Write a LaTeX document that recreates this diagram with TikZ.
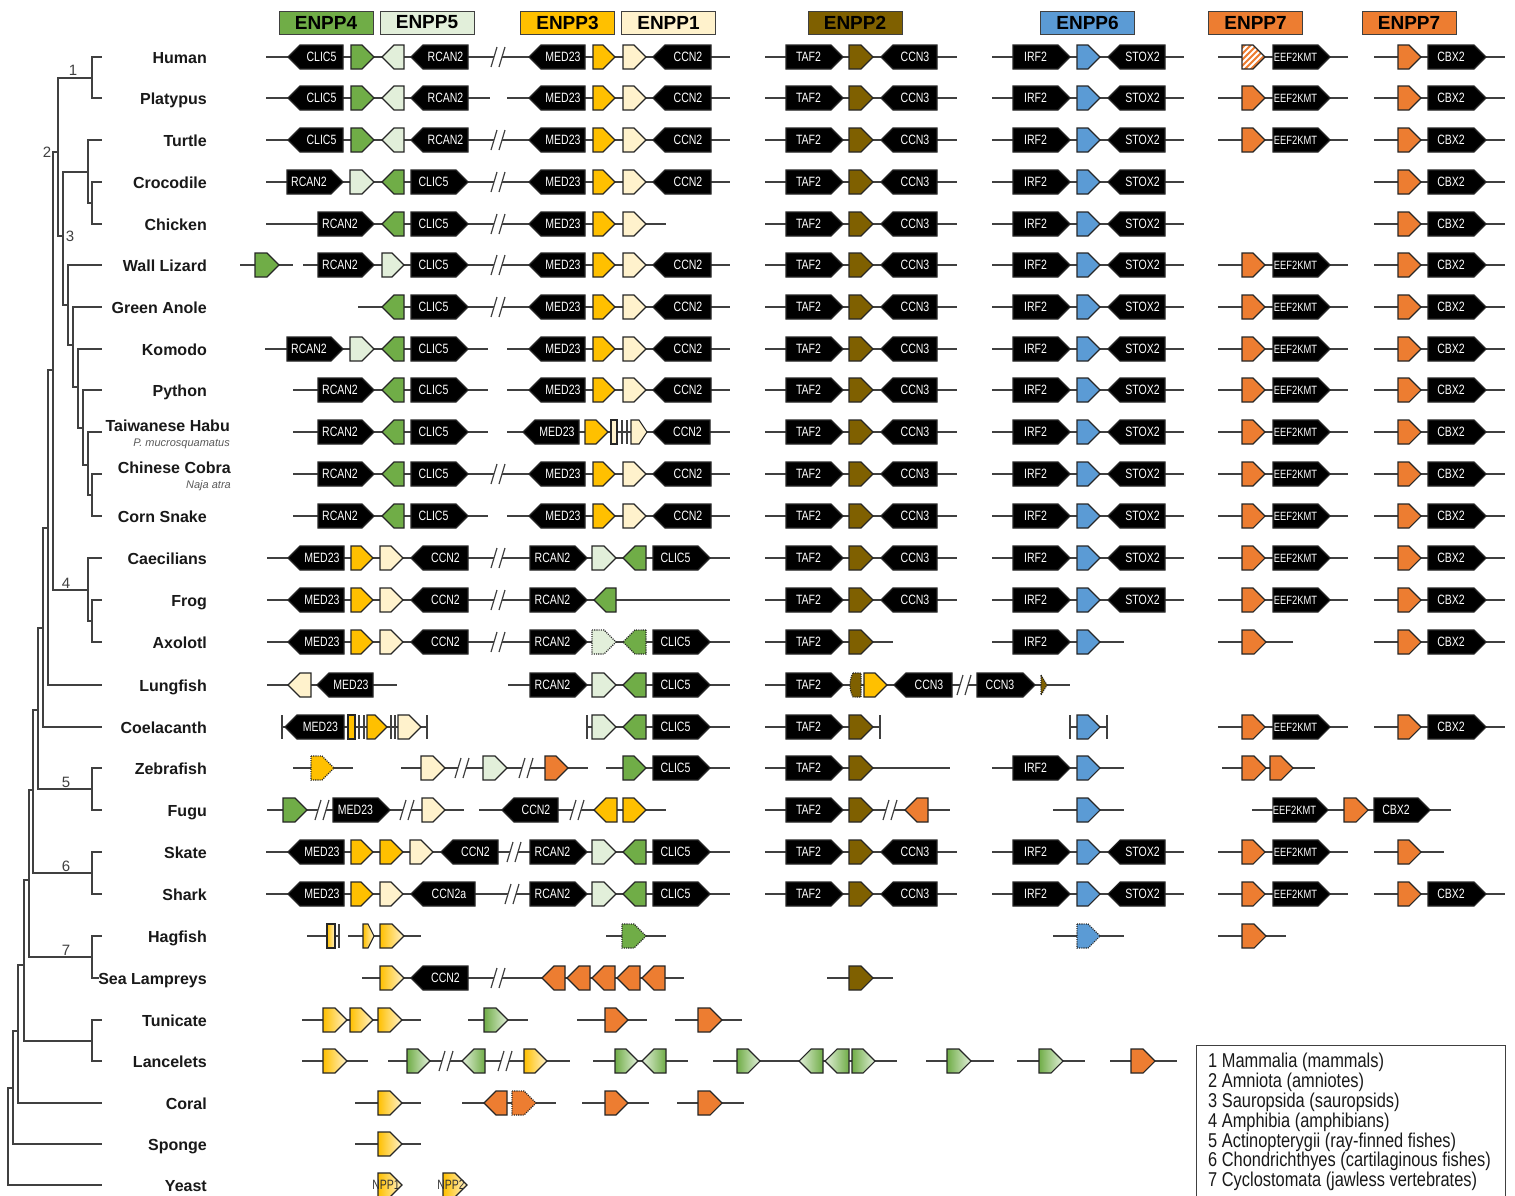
\documentclass[tikz,border=0pt]{standalone}
\usepackage{fontspec}
\setmainfont{Liberation Sans}
\newfontfamily\narrowfont[FakeStretch=0.78]{Liberation Sans}
\newfontfamily\legfont[FakeStretch=0.82]{Liberation Sans}
\definecolor{G4}{HTML}{70AD47}
\definecolor{G5}{HTML}{E2EFDA}
\definecolor{Y3}{HTML}{FFC000}
\definecolor{Y1}{HTML}{FFF2CC}
\definecolor{B2}{HTML}{7F6000}
\definecolor{B6}{HTML}{5B9BD5}
\definecolor{O7}{HTML}{ED7D31}
\tikzset{
  chrom/.style={line width=1.4pt, draw=black!75},
  gout/.style={line width=1.1pt, draw=black!85, line join=miter},
  glab/.style={font=\narrowfont\fontsize{13.5}{13.5}\selectfont, text=white, inner sep=0pt},
  eef/.style={font=\narrowfont\fontsize{12}{12}\selectfont},
  ygR/.style={left color=Y3, right color=Y1},
  ygL/.style={left color=Y1, right color=Y3},
  ggR/.style={left color=G4, right color=G5},
  ggL/.style={left color=G5, right color=G4},
  dotout/.style={dash pattern=on 1.1pt off 1.1pt},
  tree/.style={line width=1.5pt, draw=black!75, line cap=rect},
  sp/.style={font=\bfseries\fontsize{16}{16}\selectfont, anchor=base east, text=black!90, inner sep=0pt},
  subsp/.style={font=\itshape\fontsize{11}{11}\selectfont, anchor=base east, text=black!65, inner sep=0pt},
  num/.style={font=\fontsize{15}{15}\selectfont, text=black!75, inner sep=0pt},
  hdr/.style={draw=black!75, line width=1pt, minimum width=94pt, minimum height=23pt, inner sep=0pt, font=\bfseries\fontsize{19}{19}\selectfont},
  leg/.style={font=\legfont\fontsize{20}{20}\selectfont, anchor=base west, text=black!90, inner sep=0pt},
}
\newcommand\gch[2]{\draw[chrom] (#1,\ry) -- (#2,\ry);}
\newcommand\gbrk[1]{\fill[white] (#1-3.6,\ry-3) rectangle (#1+3.6,\ry+3);
  \draw[chrom,line width=1.2pt] (#1-7,\ry+10) -- (#1-1,\ry-10) (#1+1,\ry+10) -- (#1+7,\ry-10);}
\newcommand\gvbar[1]{\draw[chrom] (#1,\ry-12) -- (#1,\ry+12);}
\newcommand\gGR[4][]{\path[gout,#4,#1] (#2,\ry-12) -- (#3-12,\ry-12) -- (#3,\ry) -- (#3-12,\ry+12) -- (#2,\ry+12) -- cycle;}
\newcommand\gGL[4][]{\path[gout,#4,#1] (#3,\ry-12) -- (#2+12,\ry-12) -- (#2,\ry) -- (#2+12,\ry+12) -- (#3,\ry+12) -- cycle;}
\newcommand\gGRp[4]{\path[gout,#4] (#1,\ry-12) -- (#2-#3,\ry-12) -- (#2,\ry) -- (#2-#3,\ry+12) -- (#1,\ry+12) -- cycle;}
\newcommand\gRect[3]{\path[gout,#3] (#1,\ry-12) rectangle (#2,\ry+12);}
\newcommand\gBR[4][]{\path[gout,fill=black] (#2,\ry-12) -- (#3-12,\ry-12) -- (#3,\ry) -- (#3-12,\ry+12) -- (#2,\ry+12) -- cycle;
  \node[glab,#1] at ({(#2+#3)/2-6},\ry) {#4};}
\newcommand\gBL[4][]{\path[gout,fill=black] (#3,\ry-12) -- (#2+12,\ry-12) -- (#2,\ry) -- (#2+12,\ry+12) -- (#3,\ry+12) -- cycle;
  \node[glab,#1] at ({(#2+#3)/2+6},\ry) {#4};}
% standard blocks
\newcommand\EtwoFull{\gch{765}{957}\gBR{786}{843}{TAF2}\gGR{849}{873}{fill=B2}\gBL{881}{937}{CCN3}}
\newcommand\EsixFull{\gch{992}{1184}\gBR{1013}{1070}{IRF2}\gGR{1077}{1100}{fill=B6}\gBL{1108}{1165}{STOX2}}
\newcommand\EsevA{\gch{1218}{1348}\gGR{1242}{1265}{fill=O7}\gBR[eef]{1273}{1330}{EEF2KMT}}
\newcommand\EsevB{\gch{1374}{1505}\gGR{1398}{1421}{fill=O7}\gBR{1428}{1486}{CBX2}}
\newcommand\BlockB{\gBL{529}{585}{MED23}\gGR{593}{615}{fill=Y3}\gGR{623}{646}{fill=Y1}\gBL{653}{711}{CCN2}}
\newcommand\BlockAmam{\gBL{288}{343}{CLIC5}\gGR{351}{374}{fill=G4}\gGL{382}{404}{fill=G5}\gBL{411}{468}{RCAN2}}
\newcommand\BlockAsnake{\gBR{318}{374}{RCAN2}\gGL{382}{404}{fill=G4}\gBR{411}{468}{CLIC5}}
\newcommand\BlockAamph{\gBL{288}{344}{MED23}\gGR{351}{373}{fill=Y3}\gGR{380}{403}{fill=Y1}\gBL{411}{468}{CCN2}}
\newcommand\BlockBfish{\gBR{530}{587}{RCAN2}\gGR{592}{616}{fill=G5}\gGL{623}{646}{fill=G4}\gBR{653}{710}{CLIC5}}
\begin{document}
\begin{tikzpicture}[x=1pt,y=-1pt]
\useasboundingbox (0,0) rectangle (1515,1195);
\fill[white] (0,0) rectangle (1515,1195);

% ---------------- tree ----------------
\draw[tree]
 (58,78)--(92,78) (92,57)--(92,98) (92,57)--(101,57) (92,98)--(101,98)
 (53,152)--(58,152) (58,78)--(58,236)
 (58,236)--(63,236) (63,172)--(63,305)
 (63,172)--(88,172) (88,140)--(88,203) (88,140)--(101,140) (88,203)--(92,203) (92,182)--(92,224) (92,182)--(101,182) (92,224)--(101,224)
 (63,305)--(68,305) (68,265)--(68,345) (68,265)--(101,265)
 (68,345)--(73,345) (73,307)--(73,387) (73,307)--(101,307)
 (73,387)--(78,387) (78,349)--(78,428) (78,349)--(101,349)
 (78,428)--(83,428) (83,390)--(83,465) (83,390)--(101,390)
 (83,465)--(88,465) (88,432)--(88,495) (88,432)--(101,432)
 (88,495)--(92,495) (92,474)--(92,516) (92,474)--(101,474) (92,516)--(101,516)
 (53,152)--(53,590) (53,590)--(88,590) (88,558)--(88,621) (88,558)--(101,558) (88,621)--(92,621) (92,600)--(92,642) (92,600)--(101,600) (92,642)--(101,642)
 (48,370)--(53,370) (48,370)--(48,685) (48,685)--(101,685)
 (43,528)--(48,528) (43,528)--(43,727) (43,727)--(101,727)
 (38,628)--(43,628) (38,628)--(38,789) (38,789)--(92,789) (92,768)--(92,810) (92,768)--(101,768) (92,810)--(101,810)
 (33,710)--(38,710) (33,710)--(33,873) (33,873)--(92,873) (92,852)--(92,894) (92,852)--(101,852) (92,894)--(101,894)
 (29,790)--(33,790) (29,790)--(29,957) (29,957)--(92,957) (92,936)--(92,978) (92,936)--(101,936) (92,978)--(98,978)
 (24,880)--(29,880) (24,880)--(24,1041) (24,1041)--(92,1041) (92,1020)--(92,1061) (92,1020)--(101,1020) (92,1061)--(101,1061)
 (18,965)--(24,965) (18,965)--(18,1103) (18,1103)--(101,1103)
 (13,1031)--(18,1031) (13,1031)--(13,1144) (13,1144)--(101,1144)
 (8,1088)--(13,1088) (8,1088)--(8,1185) (8,1185)--(101,1185);
\node[num] (n1) at (73,70) {1};
\node[num] (n2) at (47,152) {2};
\node[num] (n3) at (70,236) {3};
\node[num] (n4) at (66,583) {4};
\node[num] (n5) at (66,782) {5};
\node[num] (n6) at (66,866) {6};
\node[num] (n7) at (66,950) {7};

% ---------------- species ----------------
\node[sp] (s0) at (207,63) {Human};
\node[sp] (s1) at (207,104) {Platypus};
\node[sp] (s2) at (207,146) {Turtle};
\node[sp] (s3) at (207,188) {Crocodile};
\node[sp] (s4) at (207,230) {Chicken};
\node[sp] (s5) at (207,271) {Wall Lizard};
\node[sp] (s6) at (207,313) {Green Anole};
\node[sp] (s7) at (207,355) {Komodo};
\node[sp] (s8) at (207,396) {Python};
\node[sp] (s9) at (230,431) {Taiwanese Habu};
\node[subsp] (s9b) at (230,446) {P. mucrosquamatus};
\node[sp] (s10) at (231,473) {Chinese Cobra};
\node[subsp] (s10b) at (231,488) {Naja atra};
\node[sp] (s11) at (207,522) {Corn Snake};
\node[sp] (s12) at (207,564) {Caecilians};
\node[sp] (s13) at (207,606) {Frog};
\node[sp] (s14) at (207,648) {Axolotl};
\node[sp] (s15) at (207,691) {Lungfish};
\node[sp] (s16) at (207,733) {Coelacanth};
\node[sp] (s17) at (207,774) {Zebrafish};
\node[sp] (s18) at (207,816) {Fugu};
\node[sp] (s19) at (207,858) {Skate};
\node[sp] (s20) at (207,900) {Shark};
\node[sp] (s21) at (207,942) {Hagfish};
\node[sp] (s22) at (207,984) {Sea Lampreys};
\node[sp] (s23) at (207,1026) {Tunicate};
\node[sp] (s24) at (207,1067) {Lancelets};
\node[sp] (s25) at (207,1109) {Coral};
\node[sp] (s26) at (207,1150) {Sponge};
\node[sp] (s27) at (207,1191) {Yeast};

% ---------------- headers ----------------
\node[hdr,fill=G4] (h4) at (326,22.5) {ENPP4};
\node[hdr,fill=G5] (h5) at (427,22.5) {ENPP5};
\node[hdr,fill=Y3] (h3) at (567.5,22.5) {ENPP3};
\node[hdr,fill=Y1] (h1) at (668.5,22.5) {ENPP1};
\node[hdr,fill=B2] (h2) at (855,22.5) {ENPP2};
\node[hdr,fill=B6] (h6) at (1087.5,22.5) {ENPP6};
\node[hdr,fill=O7] (h7a) at (1255.5,22.5) {ENPP7};
\node[hdr,fill=O7] (h7b) at (1409,22.5) {ENPP7};

% ---------------- rows ----------------
% Human
\def\ry{57}
\gch{266}{730}\gbrk{498}\BlockAmam\BlockB\EtwoFull\EsixFull
\gch{1218}{1348}
\begin{scope}
\clip (1242,45) -- (1253,45) -- (1265,57) -- (1253,69) -- (1242,69) -- cycle;
\fill[O7] (1235,40) rectangle (1275,75);
\foreach \k in {-36,-30,...,30} \draw[white,line width=1.8pt] (1242+\k,69) -- (1266+\k,45);
\end{scope}
\path[gout] (1242,45) -- (1253,45) -- (1265,57) -- (1253,69) -- (1242,69) -- cycle;
\gBR[eef]{1273}{1330}{EEF2KMT}
\EsevB
% Platypus
\def\ry{98}
\gch{266}{490}\gch{507}{730}\BlockAmam\BlockB\EtwoFull\EsixFull\EsevA\EsevB
% Turtle
\def\ry{140}
\gch{266}{730}\gbrk{498}\BlockAmam\BlockB\EtwoFull\EsixFull\EsevA\EsevB
% Crocodile
\def\ry{182}
\gch{266}{730}\gbrk{498}
\gBR{287}{343}{RCAN2}\gGR{350}{374}{fill=G5}\gGL{382}{404}{fill=G4}\gBR{411}{468}{CLIC5}
\BlockB\EtwoFull\EsixFull\EsevB
% Chicken
\def\ry{224}
\gch{266}{666}\gbrk{498}\BlockAsnake
\gBL{529}{585}{MED23}\gGR{593}{615}{fill=Y3}\gGR{623}{646}{fill=Y1}
\EtwoFull\EsixFull\EsevB
% Wall Lizard
\def\ry{265}
\gch{240}{293}\gGR{255}{279}{fill=G4}
\gch{303}{730}\gbrk{498}
\gBR{318}{374}{RCAN2}\gGR{382}{404}{fill=G5}\gBR{411}{468}{CLIC5}
\BlockB\EtwoFull\EsixFull\EsevA\EsevB
% Green Anole
\def\ry{307}
\gch{358}{730}\gbrk{498}\gGL{382}{404}{fill=G4}\gBR{411}{468}{CLIC5}
\BlockB\EtwoFull\EsixFull\EsevA\EsevB
% Komodo
\def\ry{349}
\gch{265}{488}\gch{507}{730}
\gBR{287}{343}{RCAN2}\gGR{350}{374}{fill=G5}\gGL{382}{404}{fill=G4}\gBR{411}{468}{CLIC5}
\BlockB\EtwoFull\EsixFull\EsevA\EsevB
% Python
\def\ry{390}
\gch{293}{488}\gch{507}{730}\BlockAsnake\BlockB\EtwoFull\EsixFull\EsevA\EsevB
% Taiwanese Habu
\def\ry{432}
\gch{293}{488}\gch{507}{730}\BlockAsnake
\gBL{523}{579}{MED23}\gGR{585}{608}{fill=Y3}\gRect{611}{617}{fill=Y1}
\gvbar{622}\gvbar{627}\gGRp{631}{647}{8}{fill=Y1}\gBL{653}{710}{CCN2}
\EtwoFull\EsixFull\EsevA\EsevB
% Chinese Cobra
\def\ry{474}
\gch{293}{730}\gbrk{498}\BlockAsnake\BlockB\EtwoFull\EsixFull\EsevA\EsevB
% Corn Snake
\def\ry{516}
\gch{293}{488}\gch{507}{730}\BlockAsnake\BlockB\EtwoFull\EsixFull\EsevA\EsevB
% Caecilians
\def\ry{558}
\gch{267}{730}\gbrk{498}\BlockAamph\BlockBfish\EtwoFull\EsixFull\EsevA\EsevB
% Frog
\def\ry{600}
\gch{267}{730}\gbrk{498}\BlockAamph\gBR{530}{587}{RCAN2}\gGL{594}{616}{fill=G4}
\EtwoFull\EsixFull\EsevA\EsevB
% Axolotl
\def\ry{642}
\gch{267}{730}\gbrk{498}\BlockAamph
\gBR{530}{587}{RCAN2}\gGR[dotout]{592}{616}{fill=G5}\gGL[dotout]{623}{646}{fill=G4}\gBR{653}{710}{CLIC5}
\gch{765}{893}\gBR{786}{843}{TAF2}\gGR{849}{873}{fill=B2}
\gch{992}{1124}\gBR{1013}{1070}{IRF2}\gGR{1077}{1100}{fill=B6}
\gch{1218}{1293}\gGR{1242}{1266}{fill=O7}
\EsevB
% Lungfish
\def\ry{685}
\gch{267}{397}\gGL{288}{311}{fill=Y1}\gBL{317}{373}{MED23}
\gch{508}{730}\BlockBfish
\gch{765}{1070}\gBR{786}{843}{TAF2}
\path[gout,dotout,fill=B2] (853,673) -- (861,673) -- (861,697) -- (853,697) .. controls (849,690) and (849,680) .. (853,673);
\gGR{864}{887}{fill=Y3}\gBL{894}{952}{CCN3}\gbrk{964}\gBR{977}{1035}{CCN3}
\path[gout,dotout,fill=B2] (1041,675) -- (1047,685) -- (1041,695) -- cycle;
% Coelacanth
\def\ry{727}
\gch{282}{427}\gvbar{282}\gBL{285}{344}{MED23}\gRect{348}{355}{fill=Y3}
\gvbar{359}\gvbar{364}\gGR{367}{387}{fill=Y3}\gvbar{391}\gvbar{395}\gGR{398}{421}{fill=Y1}\gvbar{427}
\gch{587}{730}\gvbar{587}\gGR{592}{616}{fill=G5}\gGL{623}{646}{fill=G4}\gBR{653}{710}{CLIC5}
\gch{765}{880}\gBR{786}{843}{TAF2}\gGR{849}{873}{fill=B2}\gvbar{880}
\gch{1070}{1107}\gvbar{1070}\gGR{1077}{1100}{fill=B6}\gvbar{1107}
\EsevA\EsevB
% Zebrafish
\def\ry{768}
\gch{293}{353}\gGR[dotout]{311}{334}{fill=Y3}
\gch{401}{588}\gGR{421}{445}{fill=Y1}\gbrk{462}\gGR{483}{507}{fill=G5}\gbrk{526}\gGR{545}{568}{fill=O7}
\gch{606}{730}\gGR{623}{646}{fill=G4}\gBR{653}{710}{CLIC5}
\gch{765}{950}\gBR{786}{843}{TAF2}\gGR{849}{873}{fill=B2}
\gch{992}{1124}\gBR{1013}{1070}{IRF2}\gGR{1077}{1100}{fill=B6}
\gch{1222}{1315}\gGR{1242}{1266}{fill=O7}\gGR{1270}{1293}{fill=O7}
% Fugu
\def\ry{810}
\gch{267}{464}\gGR{283}{307}{fill=G4}\gbrk{322}\gBR{333}{390}{MED23}\gbrk{407}\gGR{422}{445}{fill=Y1}
\gch{479}{666}\gBL{502}{558}{CCN2}\gbrk{577}\gGL{594}{617}{fill=Y3}\gGR{623}{646}{fill=Y3}
\gch{765}{950}\gBR{786}{843}{TAF2}\gGR{849}{873}{fill=B2}\gbrk{890}\gGL{905}{928}{fill=O7}
\gch{1053}{1124}\gGR{1077}{1100}{fill=B6}
\gch{1252}{1451}\gBR[eef]{1273}{1328}{EEF2KMT}\gGR{1344}{1368}{fill=O7}\gBR{1374}{1430}{CBX2}
% Skate
\def\ry{852}
\gch{266}{730}\gbrk{514}
\gBL{288}{344}{MED23}\gGR{351}{373}{fill=Y3}\gGR{380}{403}{fill=Y3}\gGR{410}{433}{fill=Y1}\gBL{441}{498}{CCN2}
\BlockBfish\EtwoFull\EsixFull\EsevA
\gch{1374}{1444}\gGR{1398}{1421}{fill=O7}
% Shark
\def\ry{894}
\gch{266}{730}\gbrk{512}
\gBL{288}{344}{MED23}\gGR{351}{373}{fill=Y3}\gGR{380}{403}{fill=Y1}\gBL{411}{475}{CCN2a}
\BlockBfish\EtwoFull\EsixFull\EsevA\EsevB
% Hagfish
\def\ry{936}
\gch{307}{339}\gRect{327}{335}{ygR}\gvbar{339}
\gch{348}{421}\gGRp{363}{374}{6}{ygR}\gGR{380}{404}{ygR}
\gch{606}{666}\gGR[dotout]{622}{646}{fill=G4}
\gch{1053}{1124}\gGR[dotout]{1077}{1100}{fill=B6}
\gch{1218}{1286}\gGR{1242}{1266}{fill=O7}
% Sea Lampreys
\def\ry{978}
\gch{362}{684}\gbrk{498}\gGR{380}{404}{ygR}\gBL{411}{468}{CCN2}
\gGL{542}{565}{fill=O7}\gGL{567}{590}{fill=O7}\gGL{592}{615}{fill=O7}\gGL{617}{640}{fill=O7}\gGL{642}{665}{fill=O7}
\gch{827}{893}\gGR{849}{873}{fill=B2}
% Tunicate
\def\ry{1020}
\gch{302}{421}\gGR{323}{347}{ygR}\gGR{350}{373}{ygR}\gGR{378}{402}{ygR}
\gch{468}{528}\gGR{484}{508}{ggR}
\gch{577}{647}\gGR{605}{628}{fill=O7}
\gch{675}{742}\gGR{698}{722}{fill=O7}
% Lancelets
\def\ry{1061}
\gch{302}{368}\gGR{323}{347}{ygR}
\gch{388}{570}\gGR{407}{430}{ggR}\gbrk{446}\gGL{462}{485}{ggL}\gbrk{505}\gGR{524}{547}{ygR}
\gch{593}{688}\gGR{615}{638}{ggR}\gGL{642}{666}{ggL}
\gch{713}{897}\gGR{737}{760}{ggR}\gGL{799}{823}{ggL}\gGL{825}{849}{ggL}\gGR{852}{875}{ggR}
\gch{926}{994}\gGR{947}{971}{ggR}
\gch{1017}{1085}\gGR{1039}{1063}{ggR}
\gch{1110}{1177}\gGR{1131}{1155}{fill=O7}
% Coral
\def\ry{1103}
\gch{355}{421}\gGR{378}{402}{ygR}
\gch{462}{556}\gGL{484}{507}{fill=O7}\gGR[dotout]{512}{536}{fill=O7}
\gch{582}{649}\gGR{605}{628}{fill=O7}
\gch{677}{744}\gGR{698}{722}{fill=O7}
% Sponge
\def\ry{1144}
\gch{355}{421}\gGR{378}{402}{ygR}
% Yeast
\def\ry{1185}
\gGR{378}{402}{ygR}\node[glab,text=black!80] (npp1) at (386,1185) {NPP1};
\gGR{443}{467}{ygR}\node[glab,text=black!80] (npp2) at (451,1185) {NPP2};

% ---------------- legend ----------------
\draw[draw=black!75,line width=1pt] (1196,1045) rectangle (1505,1196);
\node[leg] (l1) at (1208,1067) {1 Mammalia (mammals)};
\node[leg] (l2) at (1208,1087) {2 Amniota (amniotes)};
\node[leg] (l3) at (1208,1107) {3 Sauropsida (sauropsids)};
\node[leg] (l4) at (1208,1127) {4 Amphibia (amphibians)};
\node[leg] (l5) at (1208,1147) {5 Actinopterygii (ray-finned fishes)};
\node[leg] (l6) at (1208,1166) {6 Chondrichthyes (cartilaginous fishes)};
\node[leg] (l7) at (1208,1186) {7 Cyclostomata (jawless vertebrates)};
\end{tikzpicture}
\end{document}
